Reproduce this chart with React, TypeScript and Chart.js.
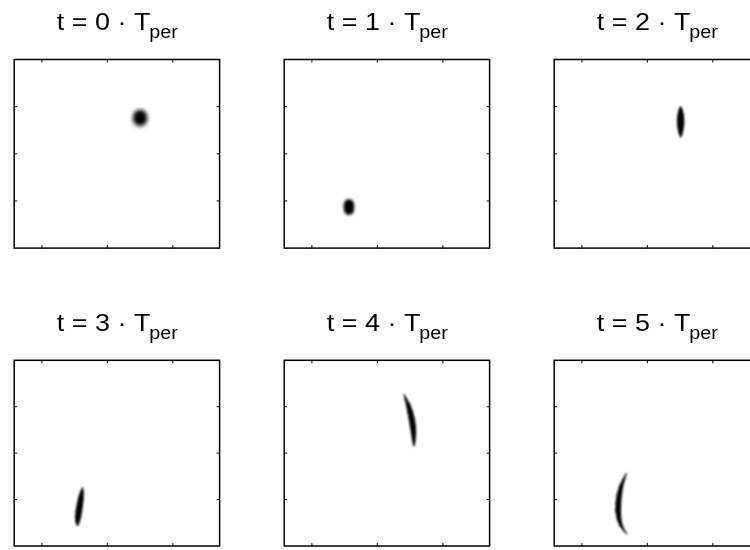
import { useEffect, useRef } from "react";
import { Chart, registerables } from "chart.js";

Chart.register(...registerables);

type Sample = { x: number; y: number; r: number };

// Axis ranges and tick values shared by every panel
const xRange = [-1.423, 1.714];
const yRange = [-2, 2];
const xTicks = [-1, 0, 1];
const yTicks = [-1, 0, 1];

// Snapshot times, in units of T_per
const periods = [0, 1, 2, 3, 4, 5];

// Wave-packet density: samples along the packet's centre line with local spread r
const packetT0: Sample[] = [
  { x: 0.5, y: 0.785, r: 7.0 },
  { x: 0.5, y: 0.735, r: 7.0 },
];
const packetT1: Sample[] = [
  { x: -0.434, y: -1.07, r: 5.0 },
  { x: -0.434, y: -1.13, r: 5.2 },
  { x: -0.434, y: -1.19, r: 5.0 },
];
const packetT2: Sample[] = [
  { x: 0.508, y: 0.993, r: 0.8 },
  { x: 0.508, y: 0.929, r: 2.0 },
  { x: 0.508, y: 0.844, r: 3.0 },
  { x: 0.508, y: 0.759, r: 3.5 },
  { x: 0.508, y: 0.674, r: 3.6 },
  { x: 0.508, y: 0.59, r: 3.4 },
  { x: 0.508, y: 0.505, r: 2.7 },
  { x: 0.508, y: 0.42, r: 1.8 },
  { x: 0.508, y: 0.356, r: 0.7 },
];
const packetT3: Sample[] = [
  { x: -0.379, y: -0.751, r: 0.8 },
  { x: -0.391, y: -0.857, r: 2.0 },
  { x: -0.406, y: -0.984, r: 2.8 },
  { x: -0.421, y: -1.111, r: 3.1 },
  { x: -0.435, y: -1.239, r: 3.2 },
  { x: -0.447, y: -1.366, r: 3.0 },
  { x: -0.455, y: -1.472, r: 2.2 },
  { x: -0.455, y: -1.557, r: 0.8 },
];
const packetT4: Sample[] = [
  { x: 0.406, y: 1.264, r: 0.5 },
  { x: 0.437, y: 1.158, r: 1.3 },
  { x: 0.472, y: 1.031, r: 2.2 },
  { x: 0.502, y: 0.882, r: 2.8 },
  { x: 0.525, y: 0.734, r: 3.0 },
  { x: 0.542, y: 0.585, r: 3.0 },
  { x: 0.553, y: 0.437, r: 2.6 },
  { x: 0.557, y: 0.288, r: 1.8 },
  { x: 0.559, y: 0.161, r: 0.8 },
];
const packetT5: Sample[] = [
  { x: -0.319, y: -0.433, r: 0.5 },
  { x: -0.365, y: -0.581, r: 1.3 },
  { x: -0.403, y: -0.73, r: 2.1 },
  { x: -0.429, y: -0.899, r: 2.6 },
  { x: -0.443, y: -1.069, r: 2.8 },
  { x: -0.446, y: -1.238, r: 2.8 },
  { x: -0.434, y: -1.408, r: 2.3 },
  { x: -0.403, y: -1.557, r: 1.6 },
  { x: -0.357, y: -1.663, r: 0.9 },
  { x: -0.311, y: -1.748, r: 0.4 },
];

const packets = [packetT0, packetT1, packetT2, packetT3, packetT4, packetT5];

// Softness of each density image, in px
const softness = [2.0, 1.8, 1.25, 1.25, 1.25, 1.25];

// Subplot geometry
const BOX_LEFT0 = 14.2;
const BOX_TOP0 = 59.5;
const COL_STEP = 270;
const ROW_STEP = 300.8;
const BOX_W = 205.4;
const BOX_H = 188.6;
const CANVAS_W = 226;

const FONT = '"Liberation Sans", Arial, Helvetica, sans-serif';

// Renders the bubble elements as one continuous packet (circles joined by
// tangent quads) on a scratch canvas, then paints it blurred into the plot.
const densityPlugin = {
  id: "density",
  beforeDatasetsDraw(chart: any, _args: any, opts: any) {
    const { ctx, chartArea: a } = chart;
    const pts = chart.getDatasetMeta(0).data.map((el: any) => ({
      x: el.x,
      y: el.y,
      r: el.options.radius,
    }));
    const off = document.createElement("canvas");
    off.width = chart.width;
    off.height = chart.height;
    const o = off.getContext("2d")!;
    o.fillStyle = "#000";
    for (let i = 0; i < pts.length; i++) {
      const p = pts[i];
      o.beginPath();
      o.arc(p.x, p.y, p.r, 0, Math.PI * 2);
      o.fill();
      if (i + 1 < pts.length) {
        const q = pts[i + 1];
        const dx = q.x - p.x;
        const dy = q.y - p.y;
        const len = Math.hypot(dx, dy) || 1;
        const nx = -dy / len;
        const ny = dx / len;
        o.beginPath();
        o.moveTo(p.x + nx * p.r, p.y + ny * p.r);
        o.lineTo(q.x + nx * q.r, q.y + ny * q.r);
        o.lineTo(q.x - nx * q.r, q.y - ny * q.r);
        o.lineTo(p.x - nx * p.r, p.y - ny * p.r);
        o.closePath();
        o.fill();
      }
    }
    ctx.save();
    ctx.beginPath();
    ctx.rect(a.left, a.top, a.right - a.left, a.bottom - a.top);
    ctx.clip();
    ctx.filter = `blur(${opts.amount}px)`;
    ctx.drawImage(off, 0, 0);
    ctx.restore();
    return false;
  },
};

const framePlugin = {
  id: "boxFrame",
  afterDraw(chart: any, _args: any, opts: any) {
    const { ctx, chartArea: a, scales } = chart;
    const tick = 3;
    ctx.save();
    ctx.strokeStyle = "#000";
    ctx.lineWidth = 1;
    ctx.beginPath();
    for (const v of xTicks) {
      const px = scales.x.getPixelForValue(v);
      ctx.moveTo(px, a.bottom);
      ctx.lineTo(px, a.bottom - tick);
      ctx.moveTo(px, a.top);
      ctx.lineTo(px, a.top + tick);
    }
    for (const v of yTicks) {
      const py = scales.y.getPixelForValue(v);
      ctx.moveTo(a.left, py);
      ctx.lineTo(a.left + tick, py);
      ctx.moveTo(a.right, py);
      ctx.lineTo(a.right - tick, py);
    }
    ctx.stroke();
    ctx.lineWidth = 1.5;
    ctx.strokeRect(a.left, a.top, a.right - a.left, a.bottom - a.top);

    // title: t = n · T_per
    const main = `t = ${opts.period} \u00b7 T`;
    const sub = "per";
    ctx.fillStyle = "#000";
    ctx.textAlign = "left";
    ctx.textBaseline = "alphabetic";
    ctx.font = `24.5px ${FONT}`;
    const wm = ctx.measureText(main).width;
    ctx.font = `18px ${FONT}`;
    const ws = ctx.measureText(sub).width;
    const total = wm - 1 + ws;
    const cx = (a.left + a.right) / 2 + 0.5;
    ctx.translate(cx, a.top - 29.5);
    ctx.scale(1.1, 1);
    ctx.font = `24.5px ${FONT}`;
    ctx.fillText(main, -total / 2, 0);
    ctx.font = `18px ${FONT}`;
    ctx.fillText(sub, -total / 2 + wm - 1, 8.3);
    ctx.restore();
  },
};

function Panel({ index }: { index: number }) {
  const ref = useRef<HTMLCanvasElement | null>(null);
  const col = index % 3;
  const row = Math.floor(index / 3);
  const boxLeft = BOX_LEFT0 + col * COL_STEP;
  const boxTop = BOX_TOP0 + row * ROW_STEP;
  const canvasLeft = Math.floor(boxLeft) - 10;
  const canvasTop = row === 0 ? 0 : 300;
  const canvasH = row === 0 ? 260 : 250;

  useEffect(() => {
    if (!ref.current) return;
    const padL = boxLeft - canvasLeft;
    const padT = boxTop - canvasTop;
    const chart = new Chart(ref.current, {
      type: "bubble",
      data: {
        datasets: [
          {
            data: packets[index],
            backgroundColor: "#000",
            borderWidth: 0,
          },
        ],
      },
      options: {
        animation: false,
        responsive: false,
        devicePixelRatio: 1,
        events: [],
        layout: {
          padding: {
            left: padL,
            top: padT,
            right: CANVAS_W - padL - BOX_W,
            bottom: canvasH - padT - BOX_H,
          },
        },
        plugins: {
          legend: { display: false },
          tooltip: { enabled: false },
          density: { amount: softness[index] },
          boxFrame: { period: periods[index] },
        } as any,
        scales: {
          x: { type: "linear", min: xRange[0], max: xRange[1], display: false },
          y: { type: "linear", min: yRange[0], max: yRange[1], display: false },
        },
      },
      plugins: [densityPlugin, framePlugin],
    });
    return () => chart.destroy();
  }, [index]);

  return (
    <canvas
      ref={ref}
      width={CANVAS_W}
      height={canvasH}
      style={{ position: "absolute", left: canvasLeft, top: canvasTop, width: CANVAS_W, height: canvasH }}
    />
  );
}

export default function App() {
  return (
    <div
      style={{
        position: "absolute",
        left: 0,
        top: 0,
        width: 750,
        height: 550,
        overflow: "hidden",
        background: "#fff",
      }}
    >
      {periods.map((_, i) => (
        <Panel key={i} index={i} />
      ))}
    </div>
  );
}
